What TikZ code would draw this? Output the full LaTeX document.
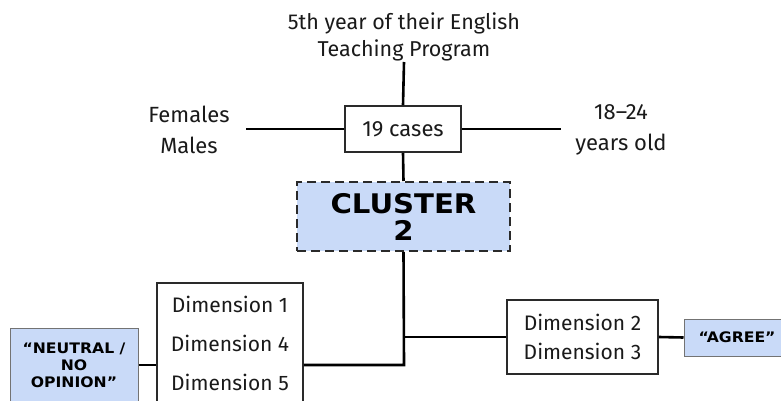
\documentclass[tikz,border=0pt]{standalone}
\usepackage{fontspec}
\setmainfont{Fira Sans}
\newfontfamily\heavyfont{DejaVu Sans}[FakeStretch=1.08]
\definecolor{lblue}{HTML}{C9DAF8}
\definecolor{txt}{HTML}{1A1A1A}
\definecolor{edge}{HTML}{2A2A2A}
\begin{document}
\begin{tikzpicture}[x=1pt,y=-1pt,
  plain/.style={text=txt,font=\fontsize{21.5}{27}\selectfont,align=center,inner sep=0pt},
  whitebox/.style={draw=edge,line width=1.8pt,fill=white,text=txt,align=center,inner sep=0pt},
  bluebox/.style={draw=black!55,line width=1pt,fill=lblue,text=black,align=center,inner sep=0pt,
     font=\heavyfont\bfseries\fontsize{14.5}{17}\selectfont},
  link/.style={line width=2.6pt,black}]
\useasboundingbox (0,0) rectangle (781,401);
\fill[white] (0,0) rectangle (781,401);
% top text
\node[plain] (prog) at (404,36.5) {5th year of their English\\Teaching Program};
\coordinate (progend) at (404,62);
% cases
\node[whitebox,minimum width=116pt,minimum height=46pt,font=\fontsize{22}{24}\selectfont] (cases) at (403,129) {19 cases};
\coordinate (sexend) at (246,129);
\coordinate (ageend) at (561,129);
\node[plain,font=\fontsize{22}{31}\selectfont] (sex) at (189,130) {Females\\Males};
\node[plain,font=\fontsize{22}{31}\selectfont] (age) at (621,130) {18--24\\years old};
% cluster
\node[draw=edge,line width=2pt,dash pattern=on 9pt off 5pt,fill=lblue,minimum width=213pt,minimum height=69pt,
  align=center,inner sep=0pt,font=\heavyfont\bfseries\fontsize{27}{27}\selectfont,text=black] (cluster) at (403.5,216.5) {CLUSTER\\2};
% dimension boxes
\node[whitebox,minimum width=146pt,minimum height=120pt,font=\fontsize{21}{39}\selectfont] (dimA) at (230,343) {Dimension 1\\Dimension 4\\Dimension 5};
\node[whitebox,minimum width=151pt,minimum height=74pt,font=\fontsize{21}{29}\selectfont] (dimB) at (582.5,337) {Dimension 2\\Dimension 3};
% answer boxes
\node[bluebox,minimum width=128pt,minimum height=74pt] (neutral) at (74,365) {“NEUTRAL /\\NO\\OPINION”};
\node[bluebox,minimum width=106pt,minimum height=37pt] (agree) at (737,337.5) {“AGREE”};
% connectors
\coordinate (junction) at (404,365);
\draw[link] (progend) -- (cases.north);
\draw[link] (sexend) -- (cases.west);
\draw[link] (cases.east) -- (ageend);
\draw[link] (cases.south) -- (cluster.north);
\draw[link] (cluster.south) -- (junction) -- (junction -| dimA.east);
\draw[link] (junction |- dimB.west) -- (dimB.west);
\draw[link] (dimB.east) -- (agree.west);
\draw[link] (neutral.east) -- (neutral.east -| dimA.west);
\end{tikzpicture}
\end{document}
